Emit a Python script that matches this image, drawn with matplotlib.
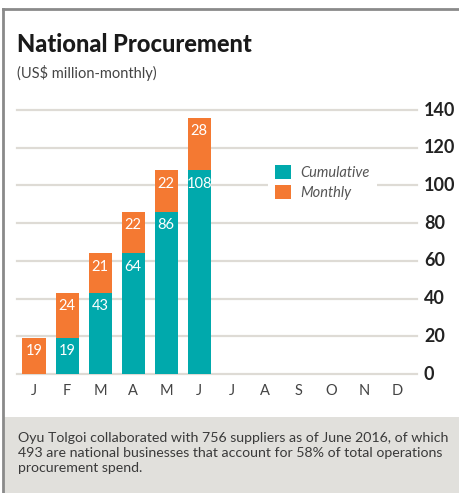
import matplotlib
matplotlib.use("Agg")
import matplotlib.pyplot as plt
from matplotlib.patches import Rectangle, Patch
from matplotlib.lines import Line2D

months = ["J", "F", "M", "A", "M", "J", "J", "A", "S", "O", "N", "D"]
cumulative = [0, 19, 43, 64, 86, 108]
monthly = [19, 24, 21, 22, 22, 28]
yticks = [0, 20, 40, 60, 80, 100, 120, 140]

title = "National Procurement"
subtitle = "(US$ million-monthly)"
footer = ("Oyu Tolgoi collaborated with 756 suppliers as of June 2016, of which\n"
          "493 are national businesses that account for 58% of total operations\n"
          "procurement spend.")

TEAL = "#00a9ac"
ORANGE = "#f47932"
GRID = "#dedbd5"
FONT = "Lato"

W, H = 459, 493
fig = plt.figure(figsize=(W / 100, H / 100), dpi=100)
fig.patch.set_facecolor("white")

def fx(px):
    return px / W

def fy(py):
    return 1 - py / H

# footer box
fig.patches.append(Rectangle((fx(3), 0), 1 - fx(3), fy(417), transform=fig.transFigure,
                             facecolor="#e1e0dc", edgecolor="none", zorder=0))
# frame lines
fig.add_artist(Line2D([fx(3), 1], [fy(9), fy(9)], transform=fig.transFigure, color="#8a8a8a", lw=2))
fig.add_artist(Line2D([fx(3), fx(3)], [fy(9), 0], transform=fig.transFigure, color="#8a8a8a", lw=2))

# title texts
fig.text(fx(17), fy(45), title, fontsize=17, fontweight="black", color="#1a1a1a",
         family=FONT, va="center", ha="left")
fig.text(fx(17), fy(73), subtitle, fontsize=10.5, color="#444444",
         family=FONT, va="center", ha="left")
fig.text(fx(18), fy(453), footer, fontsize=10.2, color="#3a3a3a", family=FONT,
         va="center", ha="left", linespacing=1.35)

# axes
left_px, right_px = 17, 417
top_px, bottom_px = 110, 374
ax = fig.add_axes([fx(left_px), fy(bottom_px), fx(right_px - left_px), (bottom_px - top_px) / H])
spacing = 33.0
first = 34
ax.set_xlim((left_px - first) / spacing, (right_px - first) / spacing)
ax.set_ylim(0, 140)

x = list(range(len(cumulative)))
bw = 23 / spacing
ax.bar(x, cumulative, width=bw, color=TEAL, zorder=3)
ax.bar(x, monthly, bottom=cumulative, width=bw, color=ORANGE, zorder=3)

for i, (c, m) in enumerate(zip(cumulative, monthly)):
    if c > 0:
        ax.annotate(str(c), (i, c), xytext=(0, -4.5), textcoords="offset points",
                    ha="center", va="top", color="white", fontsize=10.5, family=FONT, zorder=4)
    ax.annotate(str(m), (i, c + m), xytext=(0, -4.5), textcoords="offset points",
                ha="center", va="top", color="white", fontsize=10.5, family=FONT, zorder=4)

for v in yticks:
    ax.axhline(v, color=GRID, lw=1.6, zorder=1, clip_on=False)

for s in ax.spines.values():
    s.set_visible(False)
ax.set_xticks(range(len(months)))
ax.set_xticklabels(months, family=FONT, fontsize=10.5, color="#444444")
ax.tick_params(axis="x", length=0, pad=7)
ax.set_yticks([])
for v in yticks:
    fig.text(fx(424), fy(bottom_px - (bottom_px - top_px) * v / 140), str(v),
             fontsize=13, fontweight="bold", color="#222222", family=FONT,
             ha="left", va="center")

handles = [Patch(facecolor=TEAL, edgecolor="none"), Patch(facecolor=ORANGE, edgecolor="none")]
leg = ax.legend(handles, ["Cumulative", "Monthly"], loc="upper left",
                bbox_to_anchor=(fx(268), fy(158)), bbox_transform=fig.transFigure,
                frameon=True, facecolor="white", edgecolor="none", framealpha=1,
                fancybox=False, handlelength=1.1, handleheight=1.1, handletextpad=0.6,
                labelspacing=0.35, borderpad=0.5, borderaxespad=0,
                prop={"family": FONT, "style": "italic", "size": 10.5})
for t in leg.get_texts():
    t.set_color("#555555")
leg.set_zorder(5)

fig.savefig("out.png", dpi=100, facecolor="white")
